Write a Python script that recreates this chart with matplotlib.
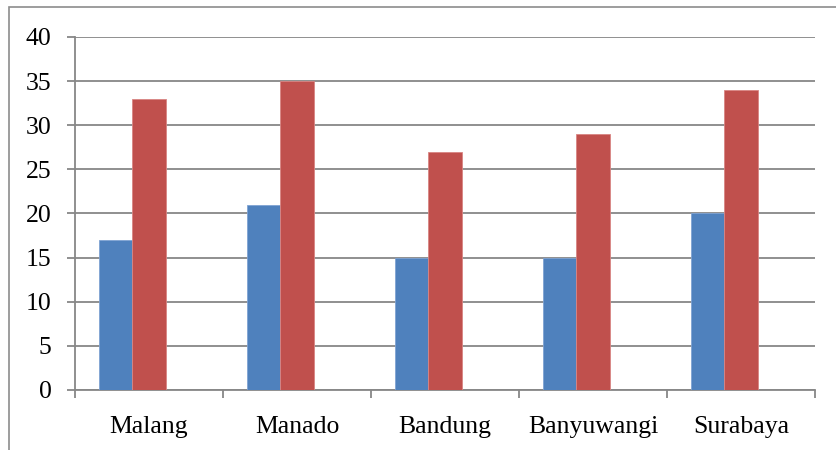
import matplotlib.pyplot as plt
import matplotlib.patches as patches
import numpy as np

cities = ['Malang', 'Manado', 'Bandung', 'Banyuwangi', 'Surabaya']
series_1 = [17, 21, 15, 15, 20]
series_2 = [33, 35, 27, 29, 34]

blue = '#4F81BD'
red = '#C0504D'
grid = '#878787'

plt.rcParams['font.family'] = ['Liberation Serif', 'DejaVu Serif']

fig = plt.figure(figsize=(8.36, 4.5), dpi=100)
ax = fig.add_axes([75 / 836, 60 / 450, 740 / 836, 353 / 450])

x = np.arange(len(cities))
w = 0.223
# bars sit left of the category centre (room left for an empty third slot)
ax.bar(x - w, series_1, w, color=blue, edgecolor='#7FA3D3', linewidth=0.6, zorder=3)
ax.bar(x, series_2, w, color=red, edgecolor='#D98583', linewidth=0.6, zorder=3)

ax.set_xlim(-0.5, len(cities) - 0.5)
ax.set_ylim(0, 40)
ax.set_yticks(range(0, 41, 5))
ax.yaxis.grid(True, color=grid, linewidth=1.3, zorder=0)

# category labels centred, ticks on the category boundaries
ax.set_xticks(x)
ax.set_xticklabels(cities)
ax.set_xticks(np.arange(-0.5, len(cities)), minor=True)
ax.tick_params(axis='x', which='major', length=0, pad=19, labelsize=18.5)
ax.tick_params(axis='x', which='minor', length=6, width=1.3, color=grid)
ax.tick_params(axis='y', length=6, width=1.3, color=grid, pad=11, labelsize=18.5)

for side in ['top', 'right']:
    ax.spines[side].set_visible(False)
for side in ['left', 'bottom']:
    ax.spines[side].set_color(grid)
    ax.spines[side].set_linewidth(1.3)

# chart frame
frame = patches.Rectangle((9 / 836, -0.1), 1.2, 1 - 7 / 450 + 0.1,
                          transform=fig.transFigure, fill=False,
                          edgecolor='#8C8C8C', linewidth=1.2, clip_on=False)
fig.patches.append(frame)

fig.savefig('out.png', dpi=100)
